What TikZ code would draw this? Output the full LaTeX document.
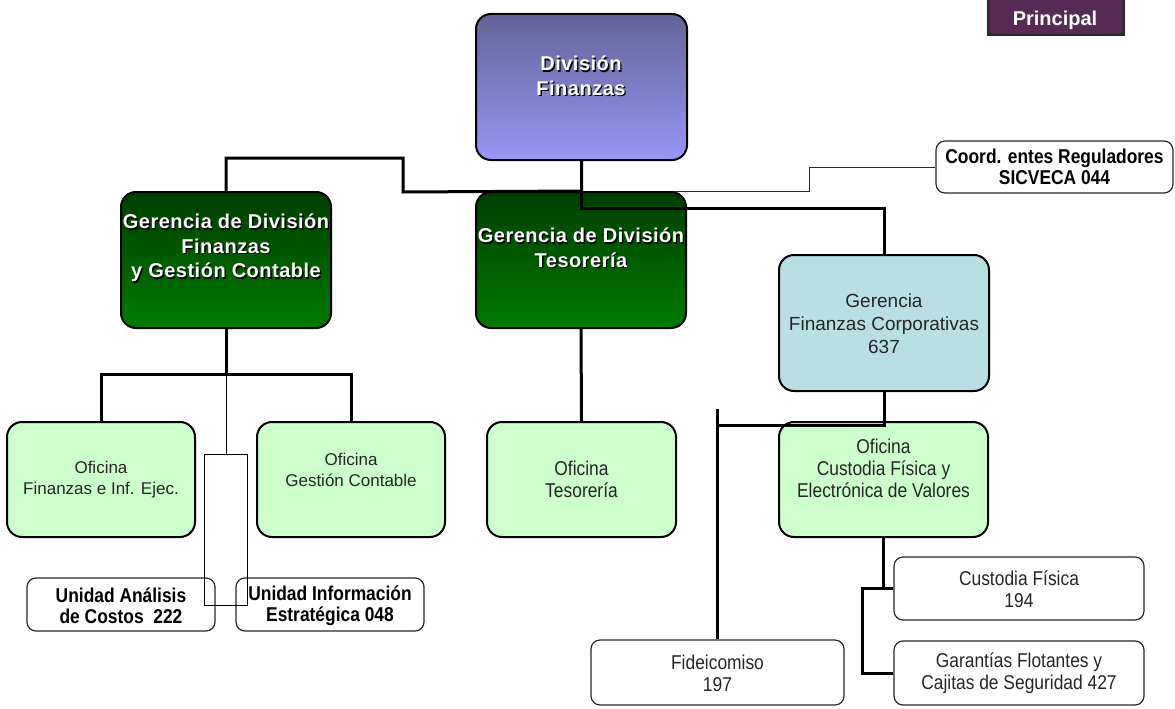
\documentclass[tikz,border=0pt]{standalone}
\usepackage{fontspec}
\setmainfont{Liberation Sans}
\newfontfamily\narrowfont[FakeStretch=0.87]{Liberation Sans}
\newfontfamily\headfont[LetterSpace=2.5]{Liberation Sans}
\definecolor{divtop}{RGB}{100,100,152}
\definecolor{divbot}{RGB}{150,150,245}
\definecolor{gertop}{RGB}{0,62,0}
\definecolor{gerbot}{RGB}{0,122,0}
\definecolor{corpblue}{RGB}{185,223,227}
\definecolor{officegreen}{RGB}{204,255,204}
\definecolor{plum}{RGB}{85,43,86}
\definecolor{rimgrey}{RGB}{40,40,40}
% white heading text with a dark drop shadow
\newcommand\embossed[3]{%
  \node[headtext,text=black] at ([shift={(1.3,1.3)}]#2) {#3};
  \node[headtext] (#1) at (#2) {#3};}
\begin{document}
\begin{tikzpicture}[x=1pt,y=-1pt,
  dims/.style 2 args={minimum width=#1pt,minimum height=#2pt},
  unit/.style={draw=black,line width=2pt,rounded corners=15pt,inner sep=0pt},
  divbox/.style={unit,top color=divtop,bottom color=divbot},
  gerbox/.style={unit,top color=gertop,bottom color=gerbot},
  corpbox/.style={unit,fill=corpblue},
  offbox/.style={unit,fill=officegreen},
  subbox/.style={draw=rimgrey,line width=1.2pt,rounded corners=9pt,fill=white,inner sep=0pt},
  headtext/.style={align=center,inner sep=0pt,text=white,font=\headfont\bfseries\fontsize{20}{24.5}\selectfont},
  plaintext/.style={align=center,inner sep=0pt,text=black!85,font=\fontsize{19}{23}\selectfont},
  offtext/.style={align=center,inner sep=0pt,text=black!85,font=\fontsize{17}{21}\selectfont},
  narrowtext/.style={align=center,inner sep=0pt,text=black!85,font=\narrowfont\fontsize{20}{22}\selectfont},
  unittext/.style={align=center,inner sep=0pt,font=\narrowfont\bfseries\fontsize{20}{21}\selectfont},
  trunk/.style={draw=black,line width=3pt},
  twig/.style={draw=black,line width=1pt},
]
\useasboundingbox (0,0) rectangle (1175,709);
\clip (0,0) rectangle (1175,709);

% boxes
\node[divbox,dims={211}{146}] (divfin) at (581.5,87) {};
\node[gerbox,dims={210}{136}] (gfin) at (226,260) {};
\node[gerbox,dims={210}{136}] (gtes) at (581,260) {};
\node[corpbox,dims={210}{136}] (gcorp) at (884,323) {};
\node[offbox,dims={188}{115}] (ofin) at (101,479.5) {};
\node[offbox,dims={188}{115}] (ogc) at (351,479.5) {};
\node[offbox,dims={189}{115}] (otes) at (581.5,479.5) {};
\node[offbox,dims={209}{115}] (ocust) at (883.5,479.5) {};
\node[subbox,dims={237}{52}] (coord) at (1054.5,167) {};
\node[subbox,dims={188}{53}] (ucost) at (121,604.5) {};
\node[subbox,dims={188}{53}] (uinf) at (330,604.5) {};
\node[subbox,dims={253}{65}] (fid) at (717.5,672.5) {};
\node[subbox,dims={250}{63}] (cfis) at (1019,588.5) {};
\node[subbox,dims={250}{64}] (gar) at (1019,673) {};
\node[draw=rimgrey,line width=1.2pt,fill=plum,inner sep=0pt,dims={136}{60}] (princ) at (1056,5) {};

% texts
\embossed{divfinT}{581,76}{División\\Finanzas}
\embossed{gfinT}{226,248}{Gerencia de División\\Finanzas\\ y Gestión Contable}
\embossed{gtesT}{581,248}{Gerencia de División\\Tesorería}
\node[plaintext] (gcorpT) at (884,324) {Gerencia\\Finanzas Corporativas\\637};
\node[offtext] (ofinT) at (101,480) {Oficina\\Finanzas e Inf. Ejec.};
\node[offtext] (ogcT) at (351,470) {Oficina\\Gestión Contable};
\node[narrowtext] (otesT) at (581.5,479) {Oficina\\Tesorería};
\node[narrowtext] (ocustT) at (883.5,468) {Oficina\\Custodia Física y\\Electrónica de Valores};
\node[unittext] (coordT) at (1054.5,167) {Coord. entes Reguladores\\SICVECA 044};
\node[unittext] (ucostT) at (121,605.5) {Unidad Análisis\\de Costos~~222};
\node[unittext] (uinfT) at (330,605.5) {Unidad Información\\Estratégica 048};
\node[narrowtext] (fidT) at (717.5,673) {Fideicomiso\\197};
\node[narrowtext] (cfisT) at (1019,589) {Custodia Física\\194};
\node[narrowtext] (garT) at (1019,673) {Garantías Flotantes y\\Cajitas de Seguridad 427};
\node[text=white,font=\bfseries\fontsize{20}{24}\selectfont,inner sep=0pt] (princT) at (1055,20) {Principal};

% connectors from División Finanzas
\draw[trunk] (gfin.north) -- ++(0,-33) -| (403,192) -- (divfin.south |- gtes.north) -- (divfin.south);
\draw[trunk] (divfin.south) -- ++(0,47) -| (gcorp.north);
\draw[twig,draw=rimgrey] (coord.west) -- ++(-126,0) |- ([xshift=-14pt]gtes.north east);

% Finanzas y Gestión Contable branch
\draw[trunk] (gfin.south) -- ++(0,47) coordinate (gfinj);
\draw[trunk] (ofin.north) -- ++(0,-47) -| (ogc.north);
\draw[twig] (gfinj) -- ++(0,78) -- ++(-22,0) -- ++(0,151) -- ++(43,0) -- ++(0,-151) -- ++(-21,0);

% Tesorería branch
\draw[trunk] (gtes.south) -- (otes.north);

% Finanzas Corporativas branch
\draw[trunk] (gcorp.south) -- ++(0,33) coordinate (cj) -- (cj -| fid.north);
\draw[trunk] (fid.north) -- ++(0,-230);
\draw[trunk] (ocust.south) -- (ocust.south |- cfis.west) coordinate (cjn) -- (cfis.west);
\draw[trunk] (cjn) -- ++(-21,0) |- (gar.west);
\end{tikzpicture}
\end{document}
